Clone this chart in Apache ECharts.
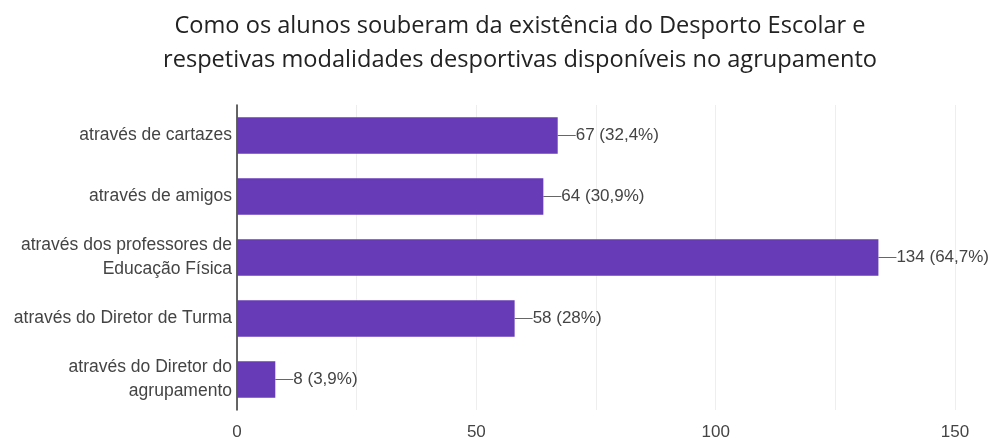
<!DOCTYPE html>
<html><head><meta charset="utf-8">
<script src="https://cdn.jsdelivr.net/npm/echarts@6/dist/echarts.min.js"></script>
<style>html,body{margin:0;padding:0;background:#fff}#c{width:995px;height:441px}</style>
</head><body><div id="c"></div>
<script>
const categories = ["através de cartazes","através de amigos","através dos professores de\nEducação Física","através do Diretor de Turma","através do Diretor do\nagrupamento"];
const values = [67, 64, 134, 58, 8];
const percents = ["32,4%","30,9%","64,7%","28%","3,9%"];
const xTicks = [0, 50, 100, 150];

const chart = echarts.init(document.getElementById('c'));
chart.setOption({
  animation: false,
  title: {
    text: "Como os alunos souberam da existência do Desporto Escolar e\nrespetivas modalidades desportivas disponíveis no agrupamento",
    left: 515, top: 4, textAlign: 'center',
    textStyle: {fontFamily: "Open Sans", fontSize: 23.6, fontWeight: 'normal', color: '#222', lineHeight: 34, align: 'center'}
  },
  grid: {left: 237, right: 40, top: 105, bottom: 29},
  xAxis: {
    type: 'value', min: 0, max: 150, interval: 25,
    axisLine: {show: false}, axisTick: {show: false},
    splitLine: {lineStyle: {color: '#eeeeee', width: 1}},
    axisLabel: {
      margin: 14, fontFamily: 'Liberation Sans', fontSize: 17, color: '#444',
      formatter: v => xTicks.includes(v) ? String(v) : ''
    }
  },
  yAxis: {
    type: 'category', data: categories, inverse: true,
    axisLine: {show: true, lineStyle: {color: '#333', width: 1.5}},
    axisTick: {show: false},
    axisLabel: {margin: 5, fontFamily: 'Liberation Sans', fontSize: 17.5, color: '#444', lineHeight: 24}
  },
  series: [{
    type: 'bar', data: values, barWidth: '60%',
    itemStyle: {color: '#673ab7'},
    label: {
      show: true, position: 'right', distance: 2,
      fontFamily: 'Liberation Sans', fontSize: 17, color: '#444',
      formatter: p => p.value + ' (' + percents[p.dataIndex] + ')'
    },
    labelLayout: {dx: 16},
    labelLine: {show: true, lineStyle: {color: '#666', width: 1}}
  }]
});
</script></body></html>
